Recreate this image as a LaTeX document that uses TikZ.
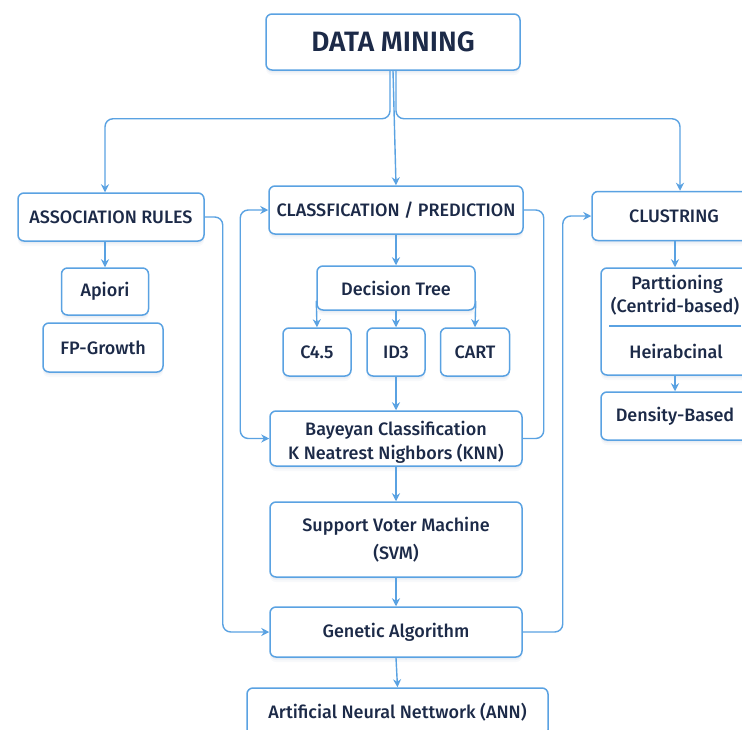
\documentclass[tikz,border=0pt]{standalone}
\usepackage{fontspec}
\IfFontExistsTF{Fira Sans Medium}
  {\setmainfont{Fira Sans Medium}[BoldFont={Fira Sans SemiBold}]}
  {\setmainfont{Fira Sans}}
\usetikzlibrary{arrows.meta,shadows,calc}
\definecolor{edge}{HTML}{5AA2E2}
\definecolor{ink}{HTML}{1C2A48}
\definecolor{shade}{HTML}{8FA8C8}
\tikzset{
  % soft layered shadow under every box
  softshadow/.style={
    preaction={fill=shade, opacity=0.06, transform canvas={yshift=-5pt}},
    preaction={fill=shade, opacity=0.08, transform canvas={yshift=-3pt}},
    preaction={fill=shade, opacity=0.10, transform canvas={yshift=-1.5pt}}},
  box/.style={draw=edge, line width=1.5pt, rounded corners=6pt, fill=white,
    text=ink, align=center, font=\fontsize{18}{22}\selectfont,
    inner sep=0pt, softshadow},
  lbl/.style={text=ink, font=\fontsize{18}{22}\selectfont, inner sep=0pt},
  link/.style={draw=edge, line width=1.4pt, rounded corners=8pt},
  arr/.style={link, -{Stealth[length=8pt,width=8pt]}},
  arrs/.style={link, {Stealth[length=8pt,width=8pt]}-{Stealth[length=8pt,width=8pt]}},
}
\begin{document}
\begin{tikzpicture}[x=1pt,y=-1pt]
  \clip (0,0) rectangle (742,729);
  \fill[white] (0,0) rectangle (742,729);

  % top level
  \node[box, minimum width=254, minimum height=56,
        font=\fontsize{28}{32}\selectfont\bfseries] (dm) at (393,42) {DATA MINING};

  % three branches
  \node[box, minimum width=186, minimum height=48] (assoc) at (111,217) {ASSOCIATION RULES};
  \node[box, minimum width=254, minimum height=48] (cls) at (396,210) {CLASSFICATION / PREDICTION};
  \node[box, minimum width=164, minimum height=49] (clu) at (674,216) {CLUSTRING};

  % association rules
  \node[box, minimum width=87, minimum height=47] (apiori) at (105,291.5) {Apiori};
  \node[box, minimum width=120, minimum height=49] (fp) at (103,347.5) {FP-Growth};

  % classification
  \node[box, minimum width=158, minimum height=44] (dt) at (396,288) {Decision Tree};
  \node[box, minimum width=68, minimum height=48] (c45) at (317,352) {C4.5};
  \node[box, minimum width=58, minimum height=48] (id3) at (396,352) {ID3};
  \node[box, minimum width=69, minimum height=48] (cart) at (475,352) {CART};
  \node[box, minimum width=252, minimum height=55] (bay) at (396,438.5) {};
  \node[lbl] (b1) at (396,430) {Bayeyan Classification};
  \node[lbl] (b2) at (396,454) {K Neatrest Nighbors (KNN)};
  \node[box, minimum width=252, minimum height=75] (svm) at (396,539.5)
       {Support Voter Machine\\[6pt](SVM)};
  \node[box, minimum width=252, minimum height=50] (ga) at (396,632) {Genetic Algorithm};
  \node[box, minimum width=301, minimum height=48] (ann) at (397.5,712)
       {Artificial Neural Nettwork (ANN)};

  % clustering
  \node[box, minimum width=148, minimum height=107] (part) at (675,321.5) {};
  \node[lbl] (p1) at (677,284) {Parttioning};
  \node[lbl] (p2) at (675,306) {(Centrid-based)};
  \node[lbl] (p3) at (676,351) {Heirabcinal};
  \draw[edge, line width=1.1pt] ([xshift=9pt]part.west |- 0,326) -- ([xshift=-9pt]part.east |- 0,326);
  \node[box, minimum width=148, minimum height=48] (dens) at (675,416) {Density-Based};

  % connectors from the root
  \draw[arr] ([xshift=-3pt]dm.south) -- ++(0,48) -| ([xshift=-6pt]assoc.north);
  \draw[arr] (dm.south) -- (cls.north);
  \draw[arr] ([xshift=3pt]dm.south) -- ++(0,48) -| ([xshift=6pt]clu.north);

  % association rules links
  \draw[arr] ([xshift=-6pt]assoc.south) -- (apiori.north);
  \draw[arr] (assoc.east) -- ++(18,0) |- (ga.west);

  % classification links
  \draw[arrs] (cls.west) -- ++(-28,0) |- (bay.west);
  \draw[link] (cls.east) -- ++(20,0) |- (bay.east);
  \draw[arr] (cls.south) -- (dt.north);
  \draw[arr] ([yshift=10pt]dt.south west) -- (c45.north);
  \draw[arr] (dt.south) -- (id3.north);
  \draw[arr] ([yshift=10pt]dt.south east) -- (cart.north);
  \draw[arr] (id3.south) -- (bay.north);
  \draw[arr] (bay.south) -- (svm.north);
  \draw[arr] (svm.south) -- (ga.north);
  \draw[arr] (ga.south) -- (ann.north);

  % clustering links
  \draw[arr] (ga.east) -- ++(40,0) |- (clu.west);
  \draw[arr] (part.north |- clu.south) -- (part.north);
  \draw[arr] (part.south) -- (dens.north);
\end{tikzpicture}
\end{document}
